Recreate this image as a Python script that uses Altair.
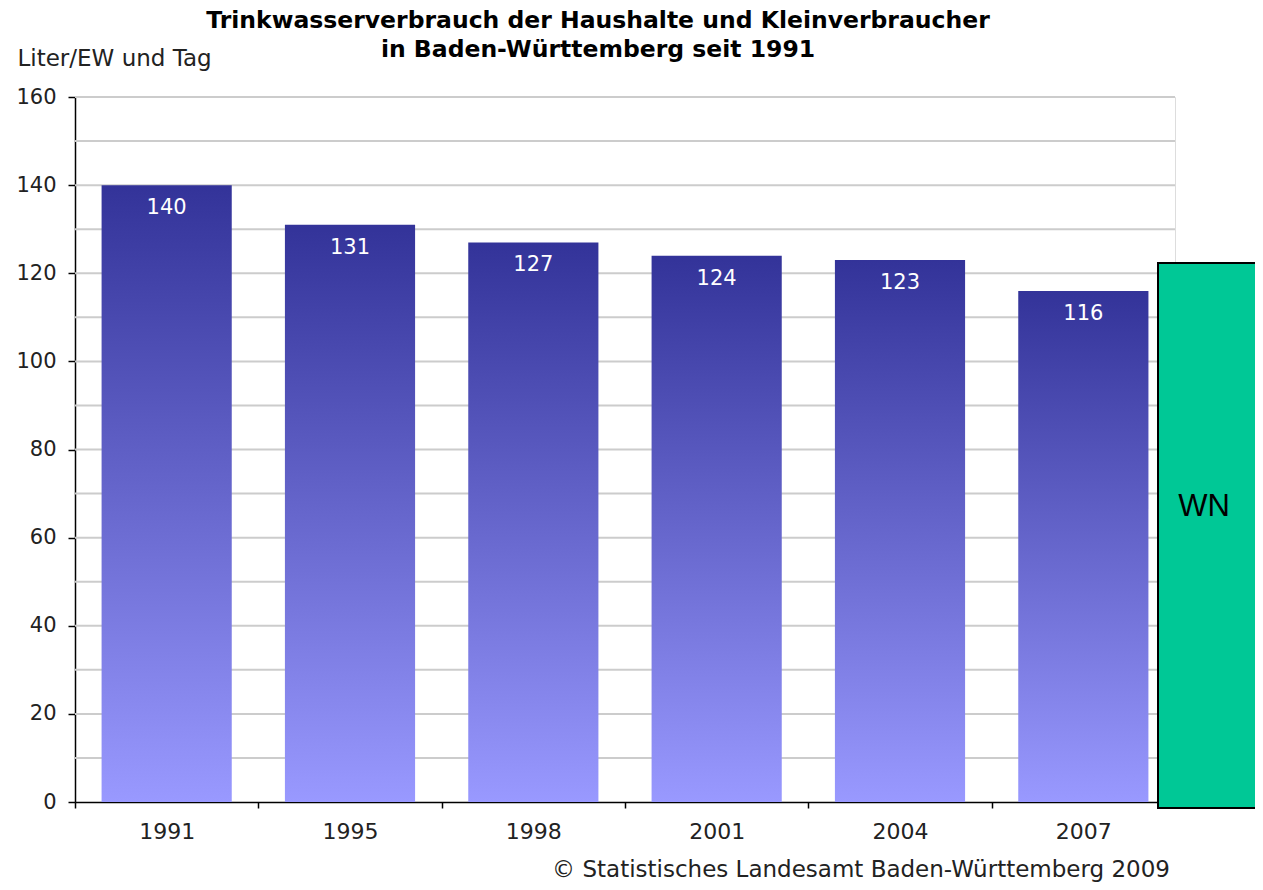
import altair as alt
import pandas as pd

# ---- data ----
years = ["1991", "1995", "1998", "2001", "2004", "2007"]
values = [140, 131, 127, 124, 123, 116]
grid_values = [10, 20, 30, 40, 50, 60, 70, 80, 90, 100, 110, 120, 130, 140, 150, 160]
y_tick_values = [0, 20, 40, 60, 80, 100, 120, 140, 160]
title_lines = ["Trinkwasserverbrauch der Haushalte und Kleinverbraucher",
               "in Baden-Württemberg seit 1991"]
y_title = "Liter/EW und Tag"
footer = ["© Statistisches Landesamt Baden-Württemberg 2009"]
badge = ["WN"]

df = pd.DataFrame({"Jahr": years, "Wert": values})
grid_df = pd.DataFrame({"g": grid_values})
footer_df = pd.DataFrame({"t": footer})
badge_df = pd.DataFrame({"t": badge})

W, H = 1100, 705
FONT = "DejaVu Sans"

yscale = alt.Scale(domain=[0, 160], nice=False, zero=True)
xscale = alt.Scale(domain=years, paddingInner=0, paddingOuter=0)

xaxis = alt.Axis(title=None, labelAngle=0, labelFont=FONT, labelFontSize=22,
                 labelColor="#222222", domainColor="black", domainWidth=1.5,
                 tickColor="black", tickWidth=1.5, tickSize=6, tickBand="extent",
                 labelPadding=13, grid=False)
yaxis = alt.Axis(title=y_title, values=y_tick_values, grid=False,
                 labelFont=FONT, labelFontSize=21, labelColor="#222222",
                 domainColor="black", domainWidth=1.5, tickColor="black",
                 tickWidth=1.5, tickSize=7, labelPadding=12,
                 titleAngle=0, titleAlign="left", titleBaseline="middle",
                 titleX=-58, titleY=-39, titleFont=FONT, titleFontSize=23,
                 titleFontWeight="normal", titleColor="#222222")

grid = alt.Chart(grid_df).mark_rule(color="#cccccc", strokeWidth=2).encode(
    y=alt.Y("g:Q", scale=yscale, axis=yaxis)
)

gradient = alt.LinearGradient(
    gradient="linear",
    stops=[alt.GradientStop(color="#333399", offset=0),
           alt.GradientStop(color="#9999ff", offset=1)],
    x1=0, x2=0, y1=0, y2=1,
)

bars = alt.Chart(df).mark_bar(color=gradient, width=alt.RelativeBandSize(0.71)).encode(
    x=alt.X("Jahr:N", scale=xscale, sort=years, axis=xaxis),
    y=alt.Y("Wert:Q", scale=yscale, axis=yaxis),
)

labels = alt.Chart(df).mark_text(color="white", font=FONT, fontSize=21,
                                 baseline="middle", dy=23).encode(
    x=alt.X("Jahr:N", scale=xscale, sort=years),
    y=alt.Y("Wert:Q", scale=yscale),
    text=alt.Text("Wert:Q"),
)

foot = alt.Chart(footer_df).mark_text(align="right", baseline="alphabetic", font=FONT,
                                      fontSize=23, color="#222222").encode(
    x=alt.value(W - 5), y=alt.value(H + 75), text="t:N"
)

box = alt.Chart(badge_df).mark_rect(fill="#00c896", stroke="black", strokeWidth=2).encode(
    x=alt.value(1083), x2=alt.value(1200), y=alt.value(166), y2=alt.value(711)
)
box_text = alt.Chart(badge_df).mark_text(font="Liberation Sans", fontSize=31,
                                         color="black", baseline="middle").encode(
    x=alt.value(1129), y=alt.value(410), text="t:N"
)

chart = alt.layer(grid, bars, labels, foot, box, box_text).properties(
    width=W, height=H,
    title=alt.Title(title_lines, font=FONT, fontSize=23.5, fontWeight="bold",
                    anchor="middle", dx=-27, offset=-14, lineHeight=29, color="black"),
    autosize=alt.AutoSizeParams(type="none"),
    padding={"left": 67, "top": 89, "right": 80, "bottom": 80},
).configure_view(stroke="#cccccc", strokeWidth=2).configure(background="white")

chart.save("out.html", embed_options={"renderer": "svg", "actions": False})
